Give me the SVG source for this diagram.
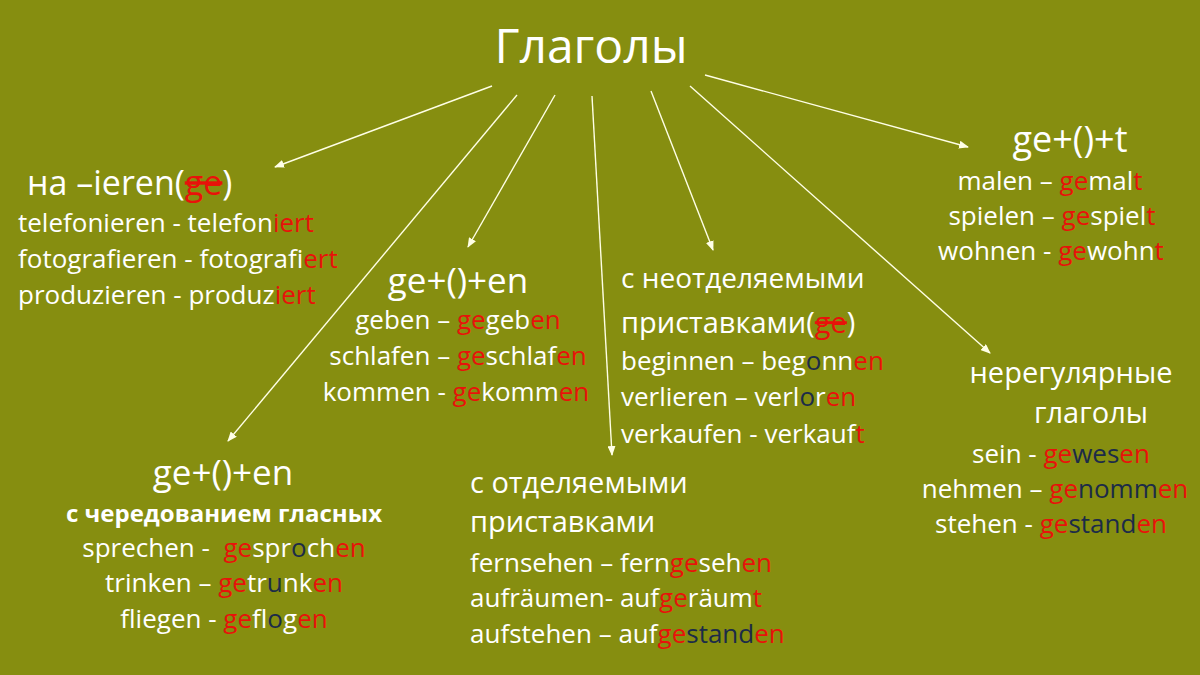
<svg xmlns="http://www.w3.org/2000/svg" width="1200" height="675" viewBox="0 0 1200 675">
<defs>
<marker id="ah" markerUnits="userSpaceOnUse" markerWidth="10" markerHeight="8" refX="9" refY="4" orient="auto">
<path d="M0,0 L10,4 L0,8 z" fill="#FFFFE6"/>
</marker>
<style>
text{font-family:"Open Sans","Noto Sans","DejaVu Sans",sans-serif;fill:#FFFFFF}
.b{font-size:26px}
.h{font-size:35px}
.c{font-size:29px}
.m{text-anchor:middle}
.r{fill:#E8120A}
.n{fill:#1C2B48}
.s{text-decoration:line-through}
.conn line{stroke:#FFFFE6;stroke-width:1.4;marker-end:url(#ah)}
</style>
</defs>
<rect width="1200" height="675" fill="#868E10"/>

<g id="connectors" class="conn">
<line x1="492" y1="86" x2="275" y2="167"/>
<line x1="517" y1="95" x2="228" y2="441"/>
<line x1="555" y1="95" x2="468" y2="247"/>
<line x1="592" y1="96" x2="612" y2="455"/>
<line x1="651" y1="91" x2="713" y2="250"/>
<line x1="690" y1="86" x2="990" y2="353"/>
<line x1="705" y1="75" x2="968" y2="147"/>
</g>

<g id="root">
<text x="591" y="63" class="m" style="font-size:48px">Глаголы</text>
</g>

<g id="ieren">
<text x="27" y="195" style="font-size:34px">на –ieren(<tspan class="r s">ge</tspan>)</text>
<text x="18" y="232" class="b">telefonieren - telefon<tspan class="r">iert</tspan></text>
<text x="18" y="268" class="b">fotografieren - fotograf<tspan class="r">iert</tspan></text>
<text x="18" y="304" class="b">produzieren - produz<tspan class="r">iert</tspan></text>
</g>

<g id="ge-en">
<text x="458" y="293" class="h m">ge+()+en</text>
<text x="458" y="329" class="b m">geben – <tspan class="r">ge</tspan>geb<tspan class="r">en</tspan></text>
<text x="458" y="365" class="b m">schlafen – <tspan class="r">ge</tspan>schlaf<tspan class="r">en</tspan></text>
<text x="456" y="401" class="b m">kommen - <tspan class="r">ge</tspan>komm<tspan class="r">en</tspan></text>
</g>

<g id="ge-t">
<text x="1070" y="152" class="m" style="font-size:36px">ge+()+t</text>
<text x="1050" y="190" class="b m">malen – <tspan class="r">ge</tspan>mal<tspan class="r">t</tspan></text>
<text x="1052" y="225" class="b m">spielen – <tspan class="r">ge</tspan>spiel<tspan class="r">t</tspan></text>
<text x="1051" y="260" class="b m">wohnen - <tspan class="r">ge</tspan>wohn<tspan class="r">t</tspan></text>
</g>

<g id="inseparable">
<text x="621" y="288" style="font-size:28px">с неотделяемыми</text>
<text x="621" y="333" class="c">приставками(<tspan class="r s">ge</tspan>)</text>
<text x="621" y="370" class="b">beginnen – beg<tspan class="n">o</tspan>nn<tspan class="r">en</tspan></text>
<text x="621" y="406" class="b">verlieren – verl<tspan class="n">o</tspan>r<tspan class="r">en</tspan></text>
<text x="621" y="443" class="b">verkaufen - verkauf<tspan class="r">t</tspan></text>
</g>

<g id="irregular">
<text x="1071" y="383" class="c m">нерегулярные</text>
<text x="1091" y="423" class="c m">глаголы</text>
<text x="1061" y="463" class="b m">sein - <tspan class="r">ge</tspan><tspan class="n">wes</tspan><tspan class="r">en</tspan></text>
<text x="1055" y="498" class="b m">nehmen – <tspan class="r">ge</tspan><tspan class="n">nomm</tspan><tspan class="r">en</tspan></text>
<text x="1051" y="533" class="b m">stehen - <tspan class="r">ge</tspan><tspan class="n">stand</tspan><tspan class="r">en</tspan></text>
</g>

<g id="ablaut">
<text x="223" y="485" class="h m">ge+()+en</text>
<text x="224" y="522" class="m" style="font-size:24px;font-weight:bold">с чередованием гласных</text>
<text x="224" y="557" class="b m" xml:space="preserve">sprechen -  <tspan class="r">ge</tspan>spr<tspan class="n">o</tspan>ch<tspan class="r">en</tspan></text>
<text x="224" y="592" class="b m">trinken – <tspan class="r">ge</tspan>tr<tspan class="n">u</tspan>nk<tspan class="r">en</tspan></text>
<text x="224" y="628" class="b m">fliegen - <tspan class="r">ge</tspan>fl<tspan class="n">o</tspan>g<tspan class="r">en</tspan></text>
</g>

<g id="separable">
<text x="470" y="493" class="c">с отделяемыми</text>
<text x="470" y="532" class="c">приставками</text>
<text x="470" y="572" class="b">fernsehen – fern<tspan class="r">ge</tspan>seh<tspan class="r">en</tspan></text>
<text x="470" y="607" class="b">aufräumen- auf<tspan class="r">ge</tspan>räum<tspan class="r">t</tspan></text>
<text x="470" y="643" class="b">aufstehen – auf<tspan class="r">ge</tspan><tspan class="n">stand</tspan><tspan class="r">en</tspan></text>
</g>
</svg>
